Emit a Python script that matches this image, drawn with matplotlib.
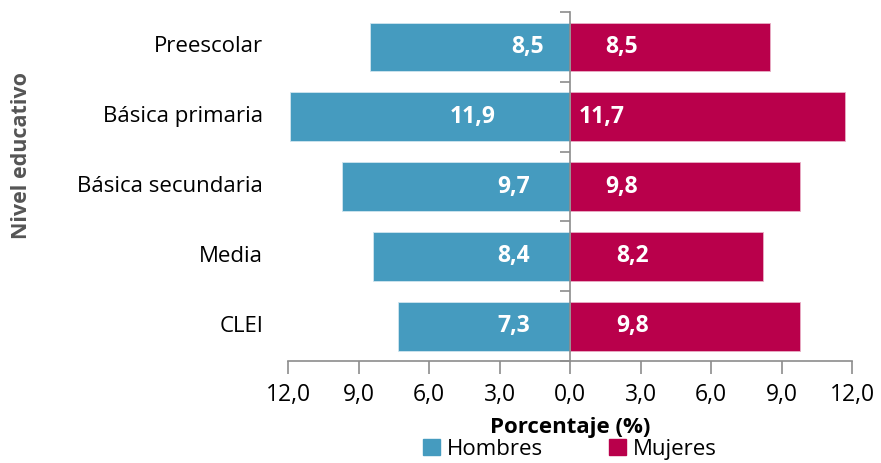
import matplotlib.pyplot as plt
from matplotlib.patches import Patch
from matplotlib.transforms import blended_transform_factory

niveles = ["Preescolar", "Básica primaria", "Básica secundaria", "Media", "CLEI"]
hombres = [8.5, 11.9, 9.7, 8.4, 7.3]
mujeres = [8.5, 11.7, 9.8, 8.2, 9.8]
ticks = [-12, -9, -6, -3, 0, 3, 6, 9, 12]

azul = "#459BBF"
magenta = "#B9004B"
gris = "#8C8C8C"

# posicion de las etiquetas dentro de las barras (como en el original)
pos_h = [-1.8, -4.15, -2.4, -2.4, -2.4]
pos_m = [2.2, 1.35, 2.2, 2.65, 2.65]

plt.rcParams["font.family"] = ["Open Sans", "DejaVu Sans"]

fig = plt.figure(figsize=(8.81, 4.63), dpi=100)
ax = fig.add_axes([0.3269, 0.2203, 0.6402, 0.7537])

y = list(range(len(niveles)))
ax.barh(y, [-v for v in hombres], height=0.7, color=azul, edgecolor="#d0e6ef", linewidth=0.6)
ax.barh(y, mujeres, height=0.7, color=magenta, edgecolor="#e9b0c6", linewidth=0.6)

for i in y:
    ax.text(pos_h[i], i, f"{hombres[i]:.1f}".replace(".", ","), ha="center", va="center",
            color="white", fontsize=16.5, fontweight="bold")
    ax.text(pos_m[i], i, f"{mujeres[i]:.1f}".replace(".", ","), ha="center", va="center",
            color="white", fontsize=16.5, fontweight="bold")

ax.set_xlim(-12, 12)
ax.set_ylim(len(niveles) - 0.5, -0.5)

ax.spines["top"].set_visible(False)
ax.spines["right"].set_visible(False)
ax.spines["left"].set_position(("data", 0))
for s in ("left", "bottom"):
    ax.spines[s].set_color(gris)
    ax.spines[s].set_linewidth(1.2)

ax.set_xticks(ticks)
ax.set_xticklabels([f"{abs(t):.1f}".replace(".", ",") for t in ticks])
ax.tick_params(axis="x", direction="out", length=9, width=1.2, color=gris,
               labelsize=16.5, pad=7)
ax.set_yticks([i - 0.5 for i in range(len(niveles) + 1)])
ax.set_yticklabels([])
ax.tick_params(axis="y", direction="out", length=7, width=1.2, color=gris)

tr = blended_transform_factory(ax.transAxes, ax.transData)
for i, n in enumerate(niveles):
    ax.text(-0.044, i, n, transform=tr, ha="right", va="center", fontsize=16)

ax.set_xlabel("Porcentaje (%)", fontsize=16, fontweight="bold", labelpad=7)

fig.text(0.024, 0.665, "Nivel educativo", rotation=90, ha="center", va="center",
         fontsize=15.5, fontweight="bold", color="#555555",
         family=["Liberation Sans Narrow", "Open Sans", "DejaVu Sans"])

handles = [Patch(color=azul, label="Hombres"), Patch(color=magenta, label="Mujeres")]
fig.legend(handles=handles, loc="center", bbox_to_anchor=(0.647, 0.03), ncol=2,
           frameon=False, fontsize=16, handlelength=0.75, handleheight=0.75,
           handletextpad=0.3, columnspacing=3.0, borderpad=0.1)

fig.savefig("out.png", dpi=100)
plt.close(fig)
